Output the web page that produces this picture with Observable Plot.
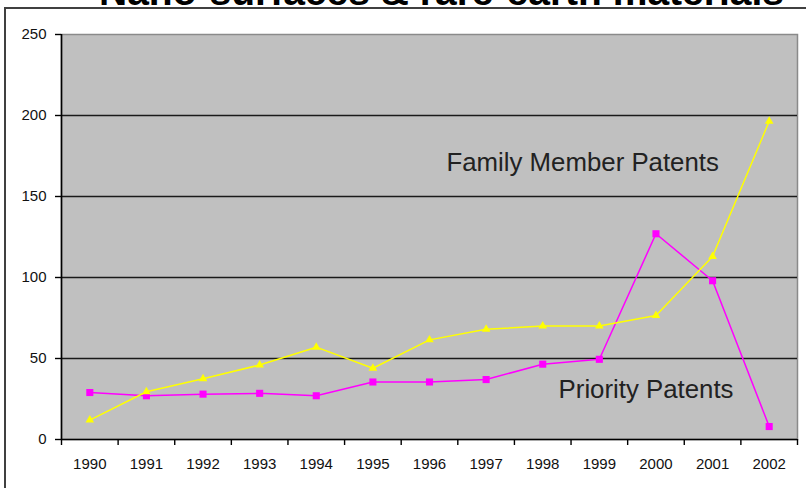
<!DOCTYPE html>
<html>
<head>
<meta charset="utf-8">
<script src="https://cdn.jsdelivr.net/npm/d3@7"></script>
<script src="https://cdn.jsdelivr.net/npm/@observablehq/plot@0.6"></script>
<style>
  html, body { margin: 0; padding: 0; background: white; overflow: hidden; }
  #wrap { position: relative; width: 806px; height: 488px; overflow: hidden; }
  #wrap svg { position: absolute; left: 0; top: 0; }
  #border { position: absolute; left: 4px; top: 7px; width: 830px; height: 510px;
            border-left: 2px solid #404040; border-top: 2px solid #404040; }
</style>
</head>
<body>
<div id="wrap"></div>
<script>
const title = "Nano-surfaces & rare-earth materials";
const years = [1990, 1991, 1992, 1993, 1994, 1995, 1996, 1997, 1998, 1999, 2000, 2001, 2002];
const priorityPatents = [29, 27, 28, 28.5, 27, 35.5, 35.5, 37, 46.5, 49.5, 127, 98, 8];
const familyPatents = [12, 29.5, 37.5, 46, 57, 44, 61.5, 68, 70, 70, 76.5, 113, 196.5];
const yTicks = [0, 50, 100, 150, 200, 250];
const gridValues = [50, 100, 150, 200];
const seriesLabels = [
  {text: "Family Member Patents", year: 1996.3, value: 171},
  {text: "Priority Patents", year: 1998.28, value: 31}
];

const priority = years.map((y, i) => ({year: y, value: priorityPatents[i]}));
const family = years.map((y, i) => ({year: y, value: familyPatents[i]}));
const boundaries = years.map(y => y - 0.5).concat([years[years.length - 1] + 0.5]);

const chart = Plot.plot({
  width: 806,
  height: 488,
  marginLeft: 61,
  marginRight: 9,
  marginTop: 34,
  marginBottom: 49,
  style: {fontFamily: "'Liberation Sans', Arial, sans-serif", fontSize: "15px", background: "transparent", color: "#111"},
  x: {type: "linear", domain: [1989.5, 2002.5]},
  y: {type: "linear", domain: [0, 250]},
  marks: [
    Plot.frame({fill: "#c0c0c0", stroke: "#8a8a8a", strokeWidth: 1.5}),
    Plot.ruleY(gridValues, {stroke: "#1a1a1a", strokeWidth: 1.6}),
    Plot.ruleX([1989.5], {stroke: "#000", strokeWidth: 1.6}),
    Plot.ruleY([0], {stroke: "#000", strokeWidth: 1.6}),
    Plot.axisY({ticks: yTicks, tickSize: 6, tickPadding: 9, tickFormat: d => String(d), label: null, stroke: "#000", strokeWidth: 1.4, fontSize: 15}),
    Plot.axisX({ticks: boundaries, tickSize: 6, tickFormat: () => "", label: null, stroke: "#000", strokeWidth: 1.4}),
    Plot.axisX({ticks: years, tickSize: 0, tickPadding: 19, tickFormat: d => String(d), label: null, fontSize: 15}),
    Plot.line(priority, {x: "year", y: "value", stroke: "#ff00ff", strokeWidth: 1.5}),
    Plot.dot(priority, {x: "year", y: "value", symbol: "square", r: 4, fill: "#ff00ff", stroke: "none"}),
    Plot.line(family, {x: "year", y: "value", stroke: "#ffff00", strokeWidth: 1.5}),
    Plot.dot(family, {x: "year", y: "value", symbol: "triangle", r: 3.2, fill: "#ffff00", stroke: "none"}),
    Plot.text(seriesLabels, {x: "year", y: "value", text: "text", textAnchor: "start", fontSize: 25.8, fill: "#222"}),
    Plot.text([title], {frameAnchor: "top", dx: 12, dy: -30, lineAnchor: "bottom", fontSize: 39, fontWeight: "bold", fill: "#000"})
  ]
});
const wrap = document.getElementById("wrap");
wrap.appendChild(chart);
const border = document.createElement("div");
border.id = "border";
wrap.appendChild(border);
</script>
</body>
</html>
